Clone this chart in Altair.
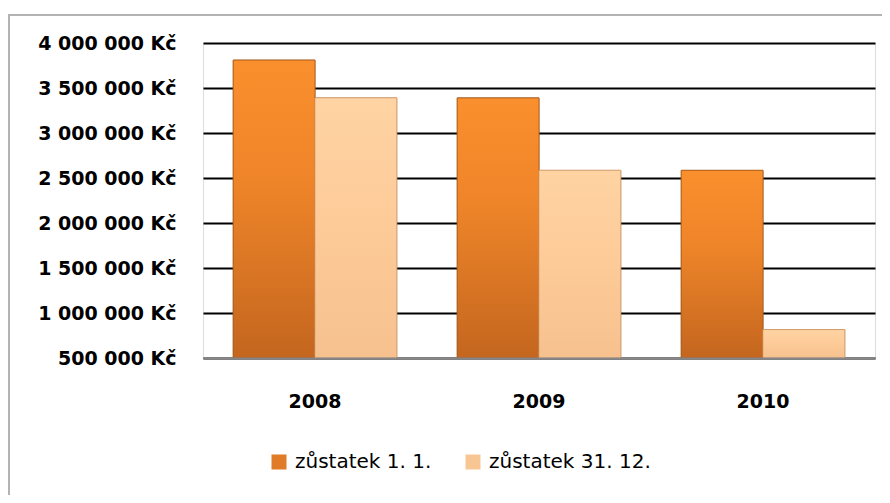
import altair as alt
import pandas as pd

years = ["2008", "2009", "2010"]
series = ["zůstatek 1. 1.", "zůstatek 31. 12."]
opening = [3810000, 3390000, 2585000]
closing = [3390000, 2585000, 815000]
y_ticks = [500000, 1000000, 1500000, 2000000, 2500000, 3000000, 3500000, 4000000]

rows = []
for i, yr in enumerate(years):
    rows.append({"rok": yr, "serie": series[0], "hodnota": opening[i]})
    rows.append({"rok": yr, "serie": series[1], "hodnota": closing[i]})
df = pd.DataFrame(rows)

FONT = "DejaVu Sans"

x_enc = alt.X("rok:N", sort=years,
              scale=alt.Scale(paddingInner=0.27, paddingOuter=0.135),
              axis=alt.Axis(title=None, labelFont=FONT, labelFontSize=19, labelFontWeight="bold",
                            labelColor="#000000", labelAngle=0, ticks=False, labelPadding=34,
                            labelBaseline="top",
                            domainColor="#868686", domainWidth=2, grid=False, zindex=1))
y_enc = alt.Y("hodnota:Q",
              scale=alt.Scale(domain=[500000, 4000000], zero=False, nice=False),
              axis=alt.Axis(title=None, values=y_ticks, labelFont=FONT, labelFontSize=19,
                            labelFontWeight="bold", labelColor="#000000", ticks=False,
                            labelPadding=27, domain=False, gridColor="#000000", gridWidth=1.8,
                            labelLimit=300,
                            labelExpr="replace(format(datum.value, ',d'), regexp(',', 'g'), ' ') + ' Kč'"))
xo_enc = alt.XOffset("serie:N", sort=series, scale=alt.Scale(paddingInner=0, paddingOuter=0))

base = alt.Chart(df)

bars = base.mark_bar(stroke="#9a5a22", strokeWidth=0.8).encode(
    x=x_enc, xOffset=xo_enc, y=y_enc, y2=alt.datum(500000),
    color=alt.Color("serie:N", sort=series,
                    scale=alt.Scale(domain=series, range=["#E07B27", "#F8C692"]),
                    legend=alt.Legend(title=None, orient="none", direction="horizontal",
                                      legendX=66, legendY=409, padding=0,
                                      symbolType="square", symbolSize=225, symbolStrokeWidth=0,
                                      labelFont=FONT, labelFontSize=20, labelColor="#000000",
                                      labelOffset=6, columnPadding=31, labelLimit=400)),
)

grad_orange = alt.Gradient(gradient="linear", x1=0, y1=0, x2=0, y2=1,
                           stops=[alt.GradientStop(color="#FA8F2D", offset=0),
                                  alt.GradientStop(color="#EF8529", offset=0.4),
                                  alt.GradientStop(color="#C4661F", offset=1)])
grad_peach = alt.Gradient(gradient="linear", x1=0, y1=0, x2=0, y2=1,
                          stops=[alt.GradientStop(color="#FFD3A3", offset=0),
                                 alt.GradientStop(color="#FDCB98", offset=0.5),
                                 alt.GradientStop(color="#F6C18E", offset=1)])

over1 = base.transform_filter(alt.datum.serie == series[0]).mark_bar(
    fill=grad_orange, stroke="#A85B1C", strokeWidth=0.8).encode(
    x=alt.X("rok:N", sort=years), xOffset=alt.XOffset("serie:N", sort=series),
    y="hodnota:Q", y2=alt.datum(500000))
over2 = base.transform_filter(alt.datum.serie == series[1]).mark_bar(
    fill=grad_peach, stroke="#D9A574", strokeWidth=0.8).encode(
    x=alt.X("rok:N", sort=years), xOffset=alt.XOffset("serie:N", sort=series),
    y="hodnota:Q", y2=alt.datum(500000))

frame = alt.Chart(pd.DataFrame({"a": [0]})).mark_rect(
    filled=False, stroke="#B3B3B3", strokeWidth=2).encode(
    x=alt.value(-194), x2=alt.value(720), y=alt.value(-28), y2=alt.value(480))

chart = alt.layer(frame, bars, over1, over2).properties(
    width=672, height=315,
    autosize=alt.AutoSizeParams(type="none"),
    padding={"left": 195, "top": 35, "right": 7, "bottom": 137},
).configure_view(stroke=None).configure(background="white")

chart.save("out.html", embed_options={"renderer": "svg", "actions": False})
